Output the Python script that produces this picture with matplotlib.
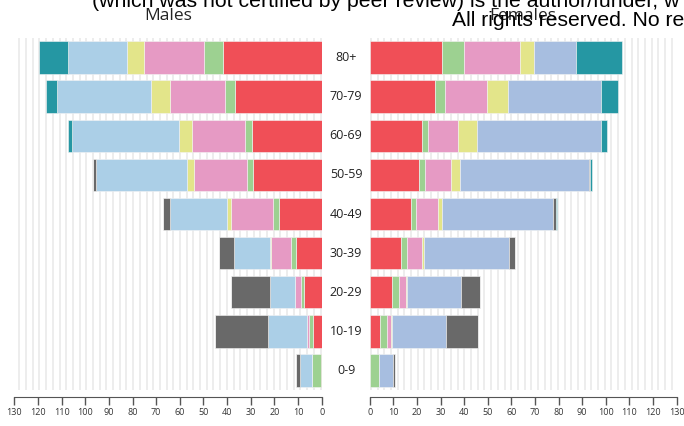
import matplotlib
matplotlib.use("Agg")
import matplotlib.pyplot as plt
import numpy as np

# age groups, bottom to top
ages = ["0-9", "10-19", "20-29", "30-39", "40-49", "50-59", "60-69", "70-79", "80+"]

# segments stacked outward from the centre: red, green, pink, yellow, blue, grey, teal
males_red    = [0.3, 3.7, 7.3, 11.0, 18.2, 28.9, 29.3, 36.8, 41.7]
males_green  = [3.6, 1.7, 1.4, 2.1, 2.4, 2.7, 3.1, 4.1, 8.1]
males_pink   = [0.2, 0.8, 2.5, 8.3, 17.9, 22.4, 22.3, 23.2, 25.2]
males_yellow = [0.0, 0.2, 0.1, 0.6, 1.5, 3.0, 5.8, 8.1, 7.2]
males_blue   = [5.2, 16.3, 10.7, 15.1, 24.1, 38.3, 45.3, 39.6, 24.9]
males_grey   = [1.4, 22.3, 16.5, 6.5, 3.0, 1.4, 0.0, 0.3, 0.0]
males_teal   = [0.0, 0.0, 0.0, 0.0, 0.0, 0.0, 1.7, 4.3, 12.4]

females_red    = [0.0, 4.4, 9.6, 13.3, 17.3, 20.9, 22.1, 27.6, 30.6]
females_green  = [4.1, 2.8, 2.7, 2.6, 2.2, 2.6, 2.5, 4.3, 9.2]
females_pink   = [0.0, 1.8, 3.1, 6.4, 9.4, 10.9, 12.9, 17.8, 23.8]
females_yellow = [0.0, 0.6, 0.6, 0.6, 1.6, 3.7, 7.8, 8.7, 5.8]
females_blue   = [5.8, 22.7, 22.8, 36.1, 47.2, 54.6, 52.5, 39.5, 17.9]
females_grey   = [0.8, 13.6, 7.8, 2.5, 1.0, 0.6, 0.3, 0.0, 0.0]
females_teal   = [0.0, 0.0, 0.0, 0.0, 0.6, 0.8, 2.5, 7.4, 19.5]

male_colors = ["#f04f57", "#9dd191", "#e69ac4", "#e3e58a", "#abcfe7", "#696969", "#2597a3"]
female_colors = ["#f04f57", "#9dd191", "#e69ac4", "#e3e58a", "#a7bee0", "#696969", "#2597a3"]

W, H = 684, 426
fig = plt.figure(figsize=(W / 100, H / 100), dpi=100)

def px_axes(x0, x1, y0, y1):
    return fig.add_axes([x0 / W, 1 - y1 / H, (x1 - x0) / W, (y1 - y0) / H])

ax_m = px_axes(14.3, 321.7, 38, 390)
ax_f = px_axes(369.7, 676.7, 38, 390)

y = np.arange(len(ages))

def draw(ax, segs, colors, title):
    # faint striped background
    for g in np.arange(0.5, 130, 2.83):
        ax.axvline(g, color="#ededed", lw=1.4, zorder=0)
    left = np.zeros(len(ages))
    for vals, c in zip(segs, colors):
        vals = np.array(vals)
        ax.barh(y, vals, left=left, height=0.83, color=c,
                edgecolor="#f4f4f4", linewidth=0.4, zorder=2)
        left += vals
    ax.set_xlim(0, 130)
    ax.set_ylim(-0.5, 8.5)
    ax.set_yticks([])
    ax.set_xticks(np.arange(0, 131, 10))
    for s in ["top", "left", "right"]:
        ax.spines[s].set_visible(False)
    ax.spines["bottom"].set_position(("outward", 5))
    ax.spines["bottom"].set_color("#555555")
    ax.tick_params(axis="x", length=5.5, width=1, color="#555555",
                   labelsize=6.5, labelcolor="#333333", pad=2.5)
    for lab in ax.get_xticklabels():
        lab.set_family("Open Sans")
    ax.text(0.5, 1 + 22 / 352, title, transform=ax.transAxes, ha="center",
            va="center", fontsize=12.5, family="Open Sans", color="#222222")

draw(ax_m, [males_red, males_green, males_pink, males_yellow, males_blue,
            males_grey, males_teal], male_colors, "Males")
draw(ax_f, [females_red, females_green, females_pink, females_yellow,
            females_blue, females_grey, females_teal], female_colors, "Females")
ax_m.invert_xaxis()

for i, a in enumerate(ages):
    ax_f.text(-10, i, a, ha="center", va="center", fontsize=9,
              family="Open Sans", color="#222222", clip_on=False)

# preprint notice overlapping the top of the figure
fig.text(92 / W, 1 - 7 / H, "(which was not certified by peer review) is the author/funder, w",
         fontsize=15.3, family="Liberation Sans", va="baseline", color="black")
fig.text(452 / W, 1 - 26 / H, "All rights reserved. No re",
         fontsize=15.2, family="Liberation Sans", va="baseline", color="black")

fig.savefig("out.png", dpi=100)
